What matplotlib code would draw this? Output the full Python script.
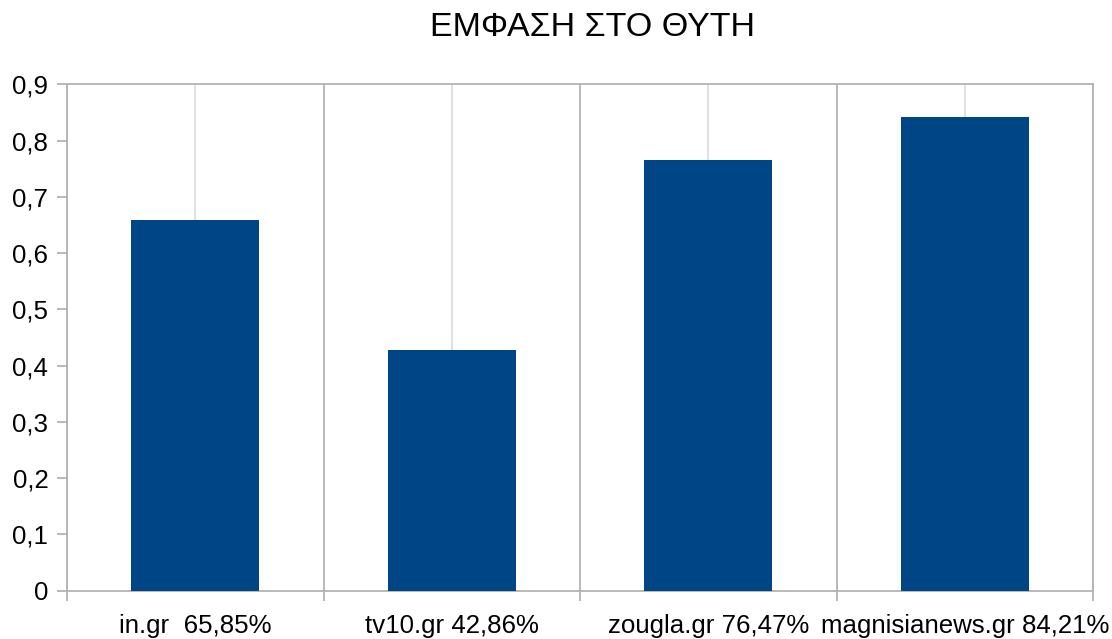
import numpy as np
import matplotlib.pyplot as plt
from matplotlib.ticker import FuncFormatter, FixedLocator

plt.rcParams["font.family"] = ["Liberation Sans", "DejaVu Sans"]

categories = ["in.gr  65,85%", "tv10.gr 42,86%", "zougla.gr 76,47%", "magnisianews.gr 84,21%"]
values = [0.6585, 0.4286, 0.7647, 0.8421]
title = "ΕΜΦΑΣΗ ΣΤΟ ΘΥΤΗ"

fig = plt.figure(figsize=(11.12, 6.39), dpi=100)
ax = fig.add_axes([0.0603, 0.0756, 0.9226, 0.7925])

x = np.arange(len(categories))
ax.bar(x, values, width=0.5, color="#004586", zorder=3)

ax.set_xlim(-0.5, len(categories) - 0.5)
ax.set_ylim(0, 0.9)

# center grid lines (light) and category boundaries (darker)
ax.set_xticks(x)
ax.set_xticklabels(categories)
ax.xaxis.set_minor_locator(FixedLocator(np.arange(-0.5, len(categories), 1.0)))
ax.grid(axis="x", which="major", color="#dddddd", linewidth=1.3, zorder=0)
ax.grid(axis="x", which="minor", color="#b3b3b3", linewidth=1.3, zorder=0)
ax.tick_params(axis="x", which="major", length=0, pad=17, labelsize=18.6)
ax.tick_params(axis="x", which="minor", length=7.5, width=1.3, color="#b3b3b3")

ax.set_yticks(np.arange(0, 0.91, 0.1))
ax.yaxis.set_major_formatter(FuncFormatter(lambda v, p: "0" if abs(v) < 1e-9 else f"{v:.1f}".replace(".", ",")))
ax.tick_params(axis="y", length=7.5, width=1.3, color="#b3b3b3", labelsize=18.6, pad=6)

for s in ax.spines.values():
    s.set_color("#b3b3b3")
    s.set_linewidth(1.3)

fig.text(0.533, 0.957, title, ha="center", va="center", fontsize=24.5)

fig.savefig("out.png", dpi=100)
